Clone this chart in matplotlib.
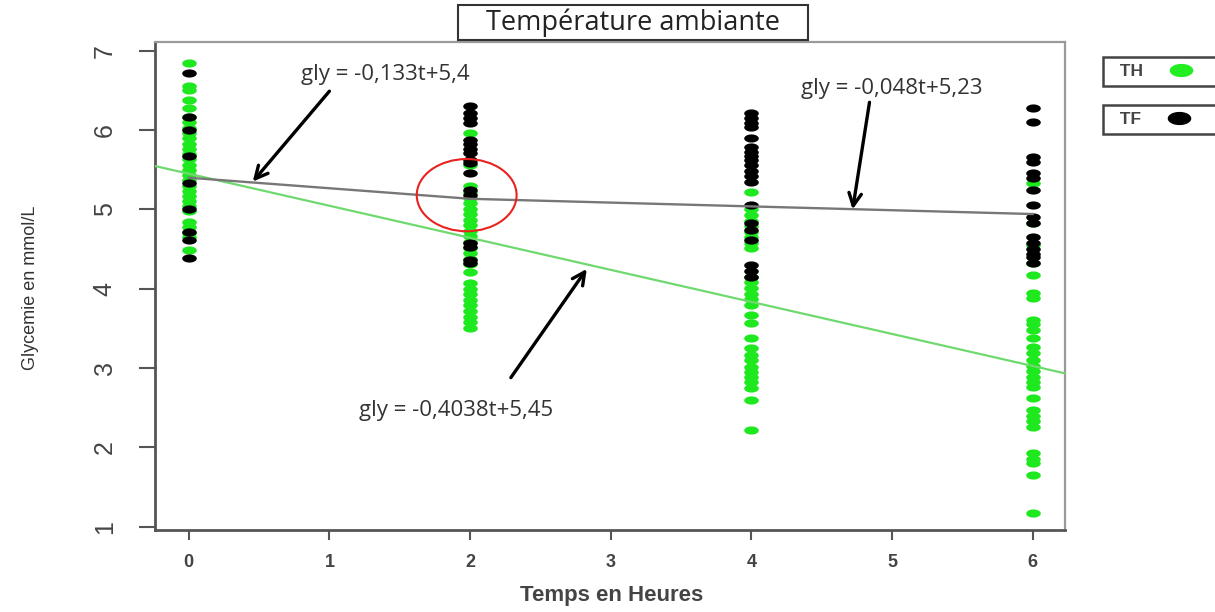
import numpy as np
import matplotlib
matplotlib.use("Agg")
import matplotlib.pyplot as plt
from matplotlib.path import Path
from matplotlib.patches import Ellipse, Rectangle
from matplotlib.lines import Line2D

# ---------------- data ----------------
th_t0 = [6.84, 6.55, 6.50, 6.38, 6.28, 6.17, 6.10, 6.03, 5.96, 5.90, 5.83, 5.76, 5.70,
         5.63, 5.56, 5.50, 5.43, 5.37, 5.30, 5.23, 5.17, 5.10, 5.04, 4.98, 4.84, 4.78,
         4.70, 4.65, 4.49]
th_t2 = [5.96, 5.56, 5.29, 5.22, 5.15, 5.08, 5.01, 4.94, 4.87, 4.80, 4.73, 4.66, 4.59,
         4.52, 4.45, 4.38, 4.31, 4.21, 4.07, 4.00, 3.93, 3.86, 3.79, 3.72, 3.65, 3.58,
         3.51]
th_t4 = [5.22, 5.00, 4.93, 4.86, 4.79, 4.72, 4.65, 4.58, 4.51, 4.15, 4.08, 4.01, 3.94,
         3.87, 3.80, 3.67, 3.57, 3.38, 3.25, 3.17, 3.10, 3.02, 2.95, 2.89, 2.83, 2.75,
         2.60, 2.22]
th_t6 = [5.33, 4.83, 4.55, 4.33, 4.17, 3.95, 3.88, 3.61, 3.55, 3.48, 3.38, 3.27, 3.19,
         3.10, 3.03, 2.96, 2.89, 2.82, 2.76, 2.62, 2.47, 2.40, 2.33, 2.26, 1.93, 1.86,
         1.80, 1.65, 1.17]

tf_t0 = [6.72, 6.17, 6.00, 5.67, 5.33, 5.00, 4.72, 4.62, 4.39]
tf_t2 = [6.30, 6.21, 6.15, 6.09, 5.88, 5.82, 5.76, 5.71, 5.62, 5.58, 5.46, 5.25, 5.18,
         4.58, 4.53, 4.36, 4.32]
tf_t4 = [6.21, 6.15, 6.09, 6.04, 5.90, 5.79, 5.73, 5.67, 5.62, 5.56, 5.48, 5.42, 5.35,
         5.06, 4.83, 4.74, 4.62, 4.30, 4.23, 4.15]
tf_t6 = [6.28, 6.10, 5.66, 5.60, 5.46, 5.40, 5.25, 5.06, 4.91, 4.83, 4.65, 4.58, 4.50,
         4.44, 4.40, 4.33]

times = [0, 2, 4, 6]
th_values = [th_t0, th_t2, th_t4, th_t6]
tf_values = [tf_t0, tf_t2, tf_t4, tf_t6]

# regression models
th_slope, th_intercept = -0.4038, 5.45
tf_seg1_slope, tf_seg1_intercept = -0.133, 5.4
tf_seg2_slope, tf_seg2_intercept = -0.048, 5.23

eq_labels = ["gly = -0,133t+5,4", "gly = -0,048t+5,23", "gly = -0,4038t+5,45"]
legend_labels = ["TH", "TF"]
xticks = [0, 1, 2, 3, 4, 5, 6]
yticks = [1, 2, 3, 4, 5, 6, 7]

# ---------------- figure ----------------
W, H = 1215, 612
fig = plt.figure(figsize=(W / 100, H / 100), dpi=100)
ax = fig.add_axes([155 / W, 1 - 530 / H, 910 / W, 488 / H])

# elliptical marker (wide, flat)
theta = np.linspace(0, 2 * np.pi, 41)
ell_marker = Path(np.column_stack([np.cos(theta), 0.56 * np.sin(theta)]), closed=True)

GREEN = "#1ee81e"
for t, vals in zip(times, th_values):
    ax.plot([t] * len(vals), vals, linestyle="none", marker=ell_marker, markersize=10.5,
            color=GREEN, markeredgewidth=0, zorder=3)
for t, vals in zip(times, tf_values):
    ax.plot([t] * len(vals), vals, linestyle="none", marker=ell_marker, markersize=10.5,
            color="black", markeredgewidth=0, zorder=4)

xlim = (-0.24, 6.23)
ylim = (0.96, 7.11)
ax.set_xlim(*xlim)
ax.set_ylim(*ylim)

# TH regression line (full width)
xx = np.array(xlim)
ax.plot(xx, th_slope * xx + th_intercept, color="#6fd96f", lw=1.6, zorder=5)
# TF piecewise line
tf_x = [0, 2, 6]
tf_y = [tf_seg1_intercept + tf_seg1_slope * 0,
        tf_seg1_intercept + tf_seg1_slope * 2,
        tf_seg2_intercept + tf_seg2_slope * 6]
ax.plot(tf_x, tf_y, color="#777777", lw=1.7, zorder=5)

# red circle
ax.add_patch(Ellipse((1.976, 5.18), 0.71, 0.91, fill=False, ec="#e8231e", lw=1.5, zorder=6))

# annotations
ann_font = dict(family="Open Sans", fontsize=16, color="#333333")
arrow = dict(arrowstyle="->,head_length=0.9,head_width=0.45", color="black", lw=2.4,
             shrinkA=0, shrinkB=0)
ax.text(1.40, 6.70, eq_labels[0], ha="center", va="center", **ann_font)
ax.annotate("", xy=(0.455, 5.35), xytext=(1.0, 6.49), arrowprops=arrow, zorder=7)
ax.text(5.00, 6.53, eq_labels[1], ha="center", va="center", **ann_font)
ax.annotate("", xy=(4.72, 5.0), xytext=(4.84, 6.35), arrowprops=arrow, zorder=7)
ax.text(1.90, 2.47, eq_labels[2], ha="center", va="center", **ann_font)
ax.annotate("", xy=(2.83, 4.25), xytext=(2.29, 2.88), arrowprops=arrow, zorder=7)

# spines and ticks
for s in ["left", "bottom"]:
    ax.spines[s].set_color("#555555")
    ax.spines[s].set_linewidth(2)
for s in ["top", "right"]:
    ax.spines[s].set_color("#9a9a9a")
    ax.spines[s].set_linewidth(1.6)

ax.set_xticks(xticks)
ax.set_yticks(yticks)
ax.tick_params(axis="x", direction="out", length=7, width=1.5, color="#555555",
               pad=10, labelsize=13, labelcolor="#444444")
ax.tick_params(axis="y", direction="out", length=11.5, width=1.5, color="#555555",
               pad=16, labelsize=18, labelcolor="#444444")
for lab in ax.get_xticklabels():
    lab.set_fontweight("bold")
    lab.set_family("Liberation Sans")
for lab in ax.get_yticklabels():
    lab.set_rotation(90)
    lab.set_va("center")
    lab.set_family("Liberation Sans")

ax.set_xlabel("Temps en Heures", fontsize=16, fontweight="bold", color="#444444",
              family="Liberation Sans")
ax.xaxis.set_label_coords(0.502, -0.112)
ax.set_ylabel("Glycemie en mmol/L", fontsize=13, color="#333333",
              family="Liberation Sans")
ax.yaxis.set_label_coords(-0.128, 0.496)

# title in box
fig.patches.append(Rectangle((458 / W, 1 - 40 / H), 350 / W, 35 / H, transform=fig.transFigure,
                             fill=False, ec="#333333", lw=1.5))
fig.text(633 / W, 1 - 22.5 / H, "Température ambiante", ha="center", va="center",
         family="Open Sans", fontsize=19.5, color="#222222")

# legends (two separate boxes)
h_th = Line2D([], [], linestyle="none", marker=ell_marker, markersize=17,
              color="#22ee22", markeredgewidth=0)
h_tf = Line2D([], [], linestyle="none", marker=ell_marker, markersize=17,
              color="black", markeredgewidth=0)
leg_kw = dict(loc="upper left", bbox_transform=fig.transFigure, markerfirst=False,
              fancybox=False, edgecolor="#444444", framealpha=1, borderpad=0.4,
              handlelength=3.4, handletextpad=0.5, borderaxespad=0,
              prop=dict(family="Liberation Sans", weight="bold", size=12.5))
leg1 = ax.legend([h_th], ["  " + legend_labels[0]], bbox_to_anchor=(1103 / W, 1 - 57 / H), **leg_kw)
leg1.get_frame().set_linewidth(1.8)
for t in leg1.get_texts():
    t.set_color("#444444")
ax.add_artist(leg1)
leg2 = ax.legend([h_tf], ["  " + legend_labels[1]], bbox_to_anchor=(1103 / W, 1 - 105 / H), **leg_kw)
leg2.get_frame().set_linewidth(1.8)
for t in leg2.get_texts():
    t.set_color("#444444")

fig.savefig("out.png", dpi=100)
